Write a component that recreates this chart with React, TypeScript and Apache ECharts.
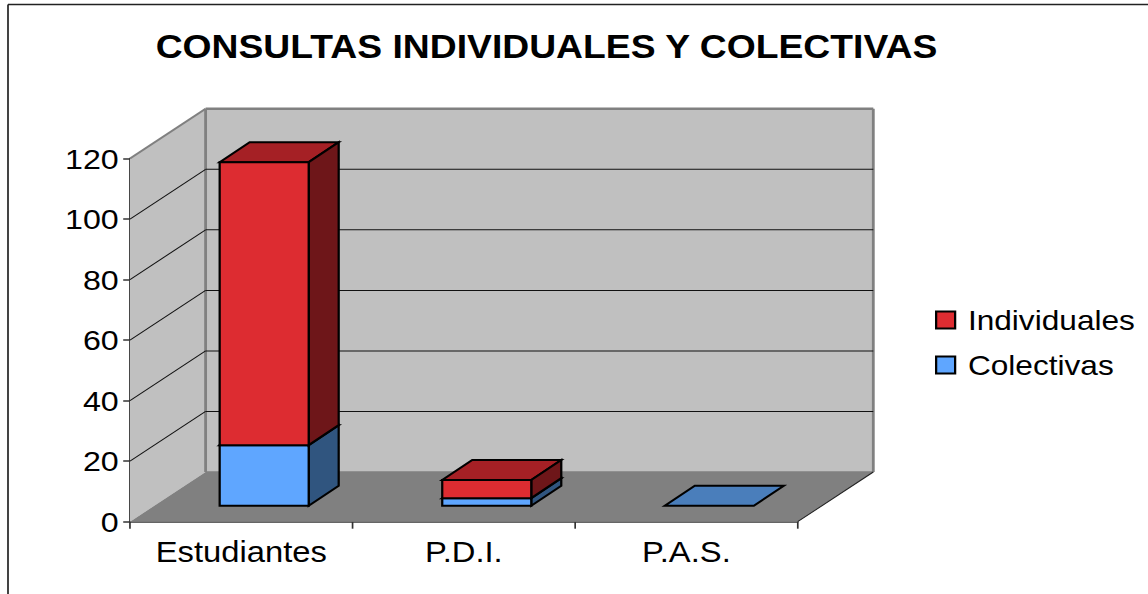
import React, { useEffect, useRef } from "react";
import * as echarts from "echarts";

const categories = ["Estudiantes", "P.D.I.", "P.A.S."];
const colectivas = [20, 2.5, 0];
const individuales = [93.5, 6, 0];
const yTicks = [0, 20, 40, 60, 80, 100, 120];

// The reference is a horizontally stretched bitmap chart; the chart is laid out
// in an unstretched space and widened as a whole, so the glyphs widen as well.
const STRETCH = 1.13;
const WIDTH = 1148 / STRETCH;
const HEIGHT = 594;
const sx = (px: number) => px / STRETCH;

const WALL_DX = sx(75.6);
const WALL_DY = 49.7;
const BAR_OFFSET_X = sx(22.9);
const BAR_OFFSET_Y = 16;
const BAR_DX = sx(30);
const BAR_DY = 20;

const palette = {
  wall: "#c0c0c0",
  floor: "#808080",
  wallEdge: "#808080",
  red: { front: "#dd2c31", side: "#6e1619", top: "#a52025" },
  blue: { front: "#5fa6ff", side: "#30557f", top: "#4a7ebb" },
};

const poly = (points: number[][], fill: string, stroke: string, lineWidth: number) => ({
  type: "polygon",
  shape: { points },
  style: { fill, stroke, lineWidth },
});
const line = (a: number[], b: number[], stroke: string, lineWidth: number) => ({
  type: "line",
  shape: { x1: a[0], y1: a[1], x2: b[0], y2: b[1] },
  style: { stroke, lineWidth },
});

function renderWalls(params: any, api: any) {
  const cs = params.coordSys;
  const value = api.value(1);
  const y = api.coord([0, value])[1];
  const left = cs.x;
  const right = cs.x + cs.width;
  const children: any[] = [];
  if (params.dataIndex === 0) {
    const top = api.coord([0, yTicks[yTicks.length - 1]])[1];
    children.push(
      poly(
        [[left, top], [left + WALL_DX, top - WALL_DY], [left + WALL_DX, y - WALL_DY], [left, y]],
        palette.wall, "none", 0
      ),
      poly(
        [[left + WALL_DX, top - WALL_DY], [right + WALL_DX, top - WALL_DY], [right + WALL_DX, y - WALL_DY], [left + WALL_DX, y - WALL_DY]],
        palette.wall, "none", 0
      ),
      poly(
        [[left, y], [right, y], [right + WALL_DX, y - WALL_DY], [left + WALL_DX, y - WALL_DY]],
        palette.floor, "none", 0
      ),
      line([left, top], [left + WALL_DX, top - WALL_DY], palette.wallEdge, 2),
      line([left + WALL_DX, top - WALL_DY], [right + WALL_DX, top - WALL_DY], palette.wallEdge, 2.5),
      line([left + WALL_DX, top - WALL_DY], [left + WALL_DX, y - WALL_DY], palette.wallEdge, 2.5),
      line([right + WALL_DX, top - WALL_DY], [right + WALL_DX, y - WALL_DY], palette.wallEdge, 2.5),
      line([left + WALL_DX, y - WALL_DY], [right + WALL_DX, y - WALL_DY], palette.wallEdge, 1.5),
      line([right, y], [right + WALL_DX, y - WALL_DY], "#222", 1)
    );
  } else if (value !== yTicks[yTicks.length - 1]) {
    children.push(
      line([left, y], [left + WALL_DX, y - WALL_DY], "#111", 1),
      line([left + WALL_DX, y - WALL_DY], [right + WALL_DX, y - WALL_DY], "#111", 1)
    );
  }
  return { type: "group", children };
}

const makeBarRenderer = (colors: { front: string; side: string; top: string }, isBase: boolean) =>
  (_params: any, api: any) => {
    const idx = api.value(0);
    const start = api.value(1);
    const end = api.value(2);
    const band = api.size([1, 0])[0];
    const w = band * 0.4;
    const base = api.coord([idx, start]);
    const tip = api.coord([idx, end]);
    const x0 = base[0] - w / 2 + BAR_OFFSET_X;
    const x1 = x0 + w;
    const y0 = base[1] - BAR_OFFSET_Y;
    const y1 = tip[1] - BAR_OFFSET_Y;
    const children: any[] = [];
    // An empty upper segment draws nothing; an empty base still shows its flat top.
    if (end === start && !isBase) return { type: "group", children };
    children.push(
      poly([[x0, y1], [x1, y1], [x1 + BAR_DX, y1 - BAR_DY], [x0 + BAR_DX, y1 - BAR_DY]], colors.top, "#000", 2)
    );
    if (end > start) {
      children.push(
        poly([[x1, y0], [x1 + BAR_DX, y0 - BAR_DY], [x1 + BAR_DX, y1 - BAR_DY], [x1, y1]], colors.side, "#000", 2),
        poly([[x0, y0], [x1, y0], [x1, y1], [x0, y1]], colors.front, "#000", 2)
      );
    }
    return { type: "group", children };
  };

export default function App() {
  const ref = useRef<HTMLDivElement>(null);

  useEffect(() => {
    document.body.style.margin = "0";
    document.body.style.background = "#fff";
    const chart = echarts.init(ref.current!, null, { renderer: "svg" });
    const axisLine = { show: true, lineStyle: { color: "#333", width: 1.5 } };
    chart.setOption({
      animation: false,
      backgroundColor: "#fff",
      textStyle: { fontFamily: "Liberation Sans" },
      title: {
        text: "CONSULTAS INDIVIDUALES Y COLECTIVAS",
        left: sx(150),
        top: 25,
        textStyle: { fontFamily: "Liberation Sans", fontSize: 33, fontWeight: "bold", color: "#000" },
      },
      legend: {
        orient: "vertical",
        left: sx(935),
        top: 306,
        padding: 0,
        icon: "rect",
        itemWidth: sx(19),
        itemHeight: 17,
        itemGap: 17,
        data: ["Individuales", "Colectivas"],
        itemStyle: { borderColor: "#000", borderWidth: 2 },
        textStyle: { fontFamily: "Liberation Sans", fontSize: 28, color: "#000", padding: [0, 0, 0, 6.3] },
      },
      grid: { left: sx(130), top: 158.5, width: sx(667.7), height: 363.2 },
      xAxis: {
        type: "category",
        data: categories,
        axisLine,
        axisTick: { show: true, interval: 0, length: 7, lineStyle: { color: "#333", width: 1.5 } },
        axisLabel: { interval: 0, fontFamily: "Liberation Sans", fontSize: 29, color: "#000", margin: 16 },
        splitLine: { show: false },
      },
      yAxis: {
        type: "value",
        min: 0,
        max: yTicks[yTicks.length - 1],
        interval: 20,
        axisLine,
        axisTick: { show: true, length: 6, lineStyle: { color: "#333", width: 1.5 } },
        axisLabel: { fontFamily: "Liberation Sans", fontSize: 28.5, color: "#000", margin: 10 },
        splitLine: { show: false },
      },
      graphic: [
        { type: "line", silent: true, shape: { x1: sx(8), y1: 4.5, x2: sx(8), y2: 594 }, style: { stroke: "#222", lineWidth: 1.5 } },
        { type: "line", silent: true, shape: { x1: sx(8), y1: 4.5, x2: WIDTH, y2: 4.5 }, style: { stroke: "#222", lineWidth: 1.5 } },
      ],
      series: [
        {
          name: "walls",
          type: "custom",
          silent: true,
          z: 1,
          renderItem: renderWalls,
          encode: { x: 0, y: 1 },
          data: yTicks.map((v) => [0, v]),
        },
        {
          name: "Colectivas",
          type: "custom",
          z: 3,
          itemStyle: { color: palette.blue.front },
          renderItem: makeBarRenderer(palette.blue, true),
          encode: { x: 0, y: [1, 2] },
          data: categories.map((_, i) => [i, 0, colectivas[i]]),
        },
        {
          name: "Individuales",
          type: "custom",
          z: 4,
          itemStyle: { color: palette.red.front },
          renderItem: makeBarRenderer(palette.red, false),
          encode: { x: 0, y: [1, 2] },
          data: categories.map((_, i) => [i, colectivas[i], colectivas[i] + individuales[i]]),
        },
      ],
    });
    return () => chart.dispose();
  }, []);

  return (
    <div style={{ width: 1148, height: HEIGHT, overflow: "hidden" }}>
      <div
        ref={ref}
        style={{
          width: WIDTH,
          height: HEIGHT,
          transform: `scaleX(${STRETCH})`,
          transformOrigin: "0 0",
        }}
      />
    </div>
  );
}
